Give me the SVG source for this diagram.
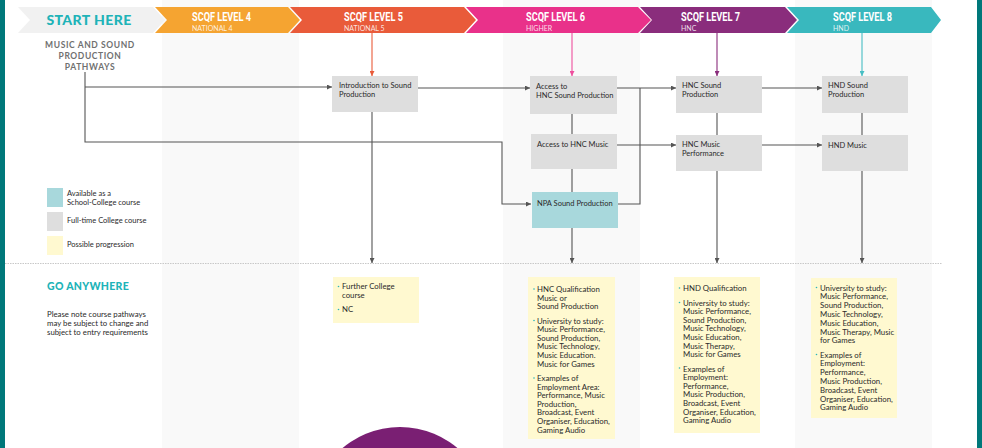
<svg xmlns="http://www.w3.org/2000/svg" width="982" height="448" viewBox="0 0 982 448">
<defs>
<style>
.col{fill:#F9F9F9}
.node{fill:#DEDEDE}
.teal{fill:#A8D8DC}
.yel{fill:#FFF9D0}
.nt{font-family:Lato,"Open Sans",sans-serif;font-size:7.5px;fill:#2a2a2a}
.bt{font-family:Lato,"Open Sans",sans-serif;font-size:7.8px;fill:#2a2a2a}
.hd{font-family:Roboto,"DejaVu Sans",sans-serif;font-weight:bold;font-size:12px;fill:#fff}
.sub{font-family:Lato,"Open Sans",sans-serif;font-size:7px;fill:#fff;fill-opacity:0.85}
.ln{fill:none;stroke:#555;stroke-width:1.1}
.dot{fill:#2BB5BB}
</style>
<marker id="ah" viewBox="0 0 10 10" refX="10" refY="5" markerWidth="5" markerHeight="5" orient="auto" markerUnits="userSpaceOnUse"><path d="M0,0L10,5L0,10z" fill="#555"/></marker>
<marker id="ah5" viewBox="0 0 10 10" refX="10" refY="5" markerWidth="5" markerHeight="5" orient="auto" markerUnits="userSpaceOnUse"><path d="M0,0L10,5L0,10z" fill="#E95B3A"/></marker>
<marker id="ah6" viewBox="0 0 10 10" refX="10" refY="5" markerWidth="5" markerHeight="5" orient="auto" markerUnits="userSpaceOnUse"><path d="M0,0L10,5L0,10z" fill="#EE4F9E"/></marker>
<marker id="ah7" viewBox="0 0 10 10" refX="10" refY="5" markerWidth="5" markerHeight="5" orient="auto" markerUnits="userSpaceOnUse"><path d="M0,0L10,5L0,10z" fill="#8A2D7C"/></marker>
<marker id="ah8" viewBox="0 0 10 10" refX="10" refY="5" markerWidth="5" markerHeight="5" orient="auto" markerUnits="userSpaceOnUse"><path d="M0,0L10,5L0,10z" fill="#47BEC4"/></marker>
</defs>
<rect width="982" height="448" fill="#fff"/>
<rect class="col" x="162" y="0" width="137" height="448"/>
<rect class="col" x="503" y="0" width="137" height="448"/>
<rect class="col" x="795" y="0" width="137" height="448"/>
<rect x="0" y="0" width="5" height="448" fill="#00787A"/>
<rect x="977" y="0" width="5" height="448" fill="#00787A"/>

<g id="header">
<polygon points="18,7 153,7 165,20 153,33 18,33 30,20" fill="#F1F1F1"/>
<text x="89" y="25" text-anchor="middle" font-family="Lato,'Open Sans',sans-serif" font-weight="900" font-size="14" fill="#20B3B8" letter-spacing="0.4">START HERE</text>
<polygon points="155,7 288,7 300,20 288,33 155,33 167,20" fill="#F5A431"/>
<text class="hd" x="192" y="21" textLength="59" lengthAdjust="spacingAndGlyphs">SCQF LEVEL 4</text>
<text class="sub" x="192" y="31">NATIONAL 4</text>
<polygon points="290,7 464,7 476,20 464,33 290,33 302,20" fill="#E95B3A"/>
<text class="hd" x="344" y="21" textLength="59" lengthAdjust="spacingAndGlyphs">SCQF LEVEL 5</text>
<text class="sub" x="344" y="31">NATIONAL 5</text>
<polygon points="466,7 638,7 651,20 638,33 466,33 478,20" fill="#E9318A"/>
<text class="hd" x="526" y="21" textLength="59" lengthAdjust="spacingAndGlyphs">SCQF LEVEL 6</text>
<text class="sub" x="526" y="31">HIGHER</text>
<polygon points="640,7 785,7 797,20 785,33 640,33 652,20" fill="#8A2D7C"/>
<text class="hd" x="681" y="21" textLength="59" lengthAdjust="spacingAndGlyphs">SCQF LEVEL 7</text>
<text class="sub" x="681" y="31">HNC</text>
<polygon points="787,7 931,7 941,20 931,33 787,33 799,20" fill="#39B8BE"/>
<text class="hd" x="833" y="21" textLength="59" lengthAdjust="spacingAndGlyphs">SCQF LEVEL 8</text>
<text class="sub" x="833" y="31">HND</text>
</g>

<g id="title" font-family="Lato,'Open Sans',sans-serif" font-weight="bold" font-size="8.5" fill="#707070" text-anchor="middle" letter-spacing="0.6">
<text x="90" y="48">MUSIC AND SOUND</text>
<text x="90" y="59">PRODUCTION</text>
<text x="90" y="70">PATHWAYS</text>
</g>

<g id="connectors">
<path class="ln" d="M85,72V142H502V204H531" marker-end="url(#ah)"/>
<path class="ln" d="M85,87H332" marker-end="url(#ah)"/>
<path d="M372,33V76" stroke="#E95B3A" stroke-width="1.1" marker-end="url(#ah5)"/>
<path d="M572,33V76" stroke="#EE4F9E" stroke-width="1.1" marker-end="url(#ah6)"/>
<path d="M717,33V76" stroke="#8A2D7C" stroke-width="1.1" marker-end="url(#ah7)"/>
<path d="M862,33V76" stroke="#47BEC4" stroke-width="1.1" marker-end="url(#ah8)"/>
<path class="ln" d="M418,88H530" marker-end="url(#ah)"/>
<path class="ln" d="M372,112V263" marker-end="url(#ah)"/>
<path class="ln" d="M572,114V134M572,169V192"/>
<path class="ln" d="M572,228V263" marker-end="url(#ah)"/>
<path class="ln" d="M617,88H676" marker-end="url(#ah)"/>
<path class="ln" d="M618,204H640V88"/>
<path class="ln" d="M617,145H676" marker-end="url(#ah)"/>
<path class="ln" d="M762,88H822" marker-end="url(#ah)"/>
<path class="ln" d="M762,145H822" marker-end="url(#ah)"/>
<path class="ln" d="M717,113V135"/>
<path class="ln" d="M717,171V263" marker-end="url(#ah)"/>
<path class="ln" d="M862,113V135"/>
<path class="ln" d="M862,171V263" marker-end="url(#ah)"/>
</g>

<line x1="5" y1="263.5" x2="942" y2="263.5" stroke="#C8C8C8" stroke-width="1" stroke-dasharray="1.5 1"/>

<g id="n-intro"><rect class="node" x="332" y="76" width="86" height="36"/>
<text class="nt" x="339" y="88">Introduction to Sound</text><text class="nt" x="339" y="97">Production</text></g>
<g id="n-access-sp"><rect class="node" x="530" y="76" width="87" height="38"/>
<text class="nt" x="536" y="89">Access to</text><text class="nt" x="536" y="98">HNC Sound Production</text></g>
<g id="n-access-music"><rect class="node" x="531" y="134" width="86" height="35"/>
<text class="nt" x="537" y="147">Access to HNC Music</text></g>
<g id="n-npa"><rect class="teal" x="532" y="192" width="86" height="36"/>
<text class="nt" x="537" y="206">NPA Sound Production</text></g>
<g id="n-hnc-sp"><rect class="node" x="676" y="76" width="86" height="37"/>
<text class="nt" x="682" y="88">HNC Sound</text><text class="nt" x="682" y="97">Production</text></g>
<g id="n-hnc-mp"><rect class="node" x="676" y="135" width="86" height="36"/>
<text class="nt" x="682" y="147">HNC Music</text><text class="nt" x="682" y="156">Performance</text></g>
<g id="n-hnd-sp"><rect class="node" x="822" y="76" width="86" height="37"/>
<text class="nt" x="828" y="88">HND Sound</text><text class="nt" x="828" y="97">Production</text></g>
<g id="n-hnd-music"><rect class="node" x="822" y="135" width="86" height="36"/>
<text class="nt" x="828" y="148">HND Music</text></g>

<g id="legend">
<rect x="47" y="188" width="16" height="19" fill="#A8D8DC"/>
<rect x="47" y="212" width="16" height="19" fill="#DEDEDE"/>
<rect x="47" y="236" width="16" height="19" fill="#FFF9D0"/>
<text class="nt" x="67" y="196">Available as a</text>
<text class="nt" x="67" y="205">School-College course</text>
<text class="nt" x="67" y="223">Full-time College course</text>
<text class="nt" x="67" y="247">Possible progression</text>
</g>

<g id="go-anywhere">
<text x="47" y="290" font-family="Lato,'Open Sans',sans-serif" font-weight="900" font-size="10.5" fill="#20B3B8" letter-spacing="0.3">GO ANYWHERE</text>
<text class="bt" x="47" y="317">Please note course pathways</text>
<text class="bt" x="47" y="326">may be subject to change and</text>
<text class="bt" x="47" y="335">subject to entry requirements</text>
</g>

<g id="p-level5"><rect class="yel" x="333" y="277" width="86" height="46"/>
<circle class="dot" cx="338.5" cy="286.5" r="0.8"/><circle class="dot" cx="338.5" cy="309.5" r="0.8"/>
<text class="bt" x="342" y="289">Further College</text><text class="bt" x="342" y="298">course</text>
<text class="bt" x="342" y="312">NC</text></g>

<g id="p-level6"><rect class="yel" x="528" y="277" width="87" height="162"/>
<circle class="dot" cx="534" cy="289" r="0.8"/><circle class="dot" cx="534" cy="320.5" r="0.8"/><circle class="dot" cx="534" cy="378" r="0.8"/>
<text class="bt" x="537" y="292">HNC Qualification</text>
<text class="bt" x="537" y="300.6">Music or</text>
<text class="bt" x="537" y="309.2">Sound Production</text>
<text class="bt" x="537" y="323.5">University to study:</text>
<text class="bt" x="537" y="332.1">Music Performance,</text>
<text class="bt" x="537" y="340.7">Sound Production,</text>
<text class="bt" x="537" y="349.3">Music Technology,</text>
<text class="bt" x="537" y="357.9">Music Education.</text>
<text class="bt" x="537" y="366.5">Music for Games</text>
<text class="bt" x="537" y="381">Examples of</text>
<text class="bt" x="537" y="389.6">Employment Area:</text>
<text class="bt" x="537" y="398.2">Performance, Music</text>
<text class="bt" x="537" y="406.8">Production,</text>
<text class="bt" x="537" y="415.4">Broadcast, Event</text>
<text class="bt" x="537" y="424">Organiser, Education,</text>
<text class="bt" x="537" y="432.6">Gaming Audio</text>
</g>

<g id="p-level7"><rect class="yel" x="674" y="277" width="86" height="156"/>
<circle class="dot" cx="679.5" cy="288" r="0.8"/><circle class="dot" cx="679.5" cy="302.5" r="0.8"/><circle class="dot" cx="679.5" cy="368" r="0.8"/>
<text class="bt" x="683" y="291">HND Qualification</text>
<text class="bt" x="683" y="305.5">University to study:</text>
<text class="bt" x="683" y="314.1">Music Performance,</text>
<text class="bt" x="683" y="322.7">Sound Production,</text>
<text class="bt" x="683" y="331.3">Music Technology,</text>
<text class="bt" x="683" y="339.9">Music Education,</text>
<text class="bt" x="683" y="348.5">Music Therapy,</text>
<text class="bt" x="683" y="357.1">Music for Games</text>
<text class="bt" x="683" y="371.5">Examples of</text>
<text class="bt" x="683" y="380.1">Employment:</text>
<text class="bt" x="683" y="388.7">Performance,</text>
<text class="bt" x="683" y="397.3">Music Production,</text>
<text class="bt" x="683" y="405.9">Broadcast, Event</text>
<text class="bt" x="683" y="414.5">Organiser, Education,</text>
<text class="bt" x="683" y="423.1">Gaming Audio</text>
</g>

<g id="p-level8"><rect class="yel" x="811" y="278" width="86" height="140"/>
<circle class="dot" cx="816.5" cy="287.5" r="0.8"/><circle class="dot" cx="816.5" cy="354.5" r="0.8"/>
<text class="bt" x="820" y="290.5">University to study:</text>
<text class="bt" x="820" y="299.3">Music Performance,</text>
<text class="bt" x="820" y="308.1">Sound Production,</text>
<text class="bt" x="820" y="316.9">Music Technology,</text>
<text class="bt" x="820" y="325.7">Music Education,</text>
<text class="bt" x="820" y="334.5">Music Therapy, Music</text>
<text class="bt" x="820" y="343.3">for Games</text>
<text class="bt" x="820" y="357.5">Examples of</text>
<text class="bt" x="820" y="366.3">Employment:</text>
<text class="bt" x="820" y="375.1">Performance,</text>
<text class="bt" x="820" y="383.9">Music Production,</text>
<text class="bt" x="820" y="392.7">Broadcast, Event</text>
<text class="bt" x="820" y="401.5">Organiser, Education,</text>
<text class="bt" x="820" y="410.3">Gaming Audio</text>
</g>

<circle cx="400" cy="516" r="89" fill="#7A1F73"/>
</svg>
